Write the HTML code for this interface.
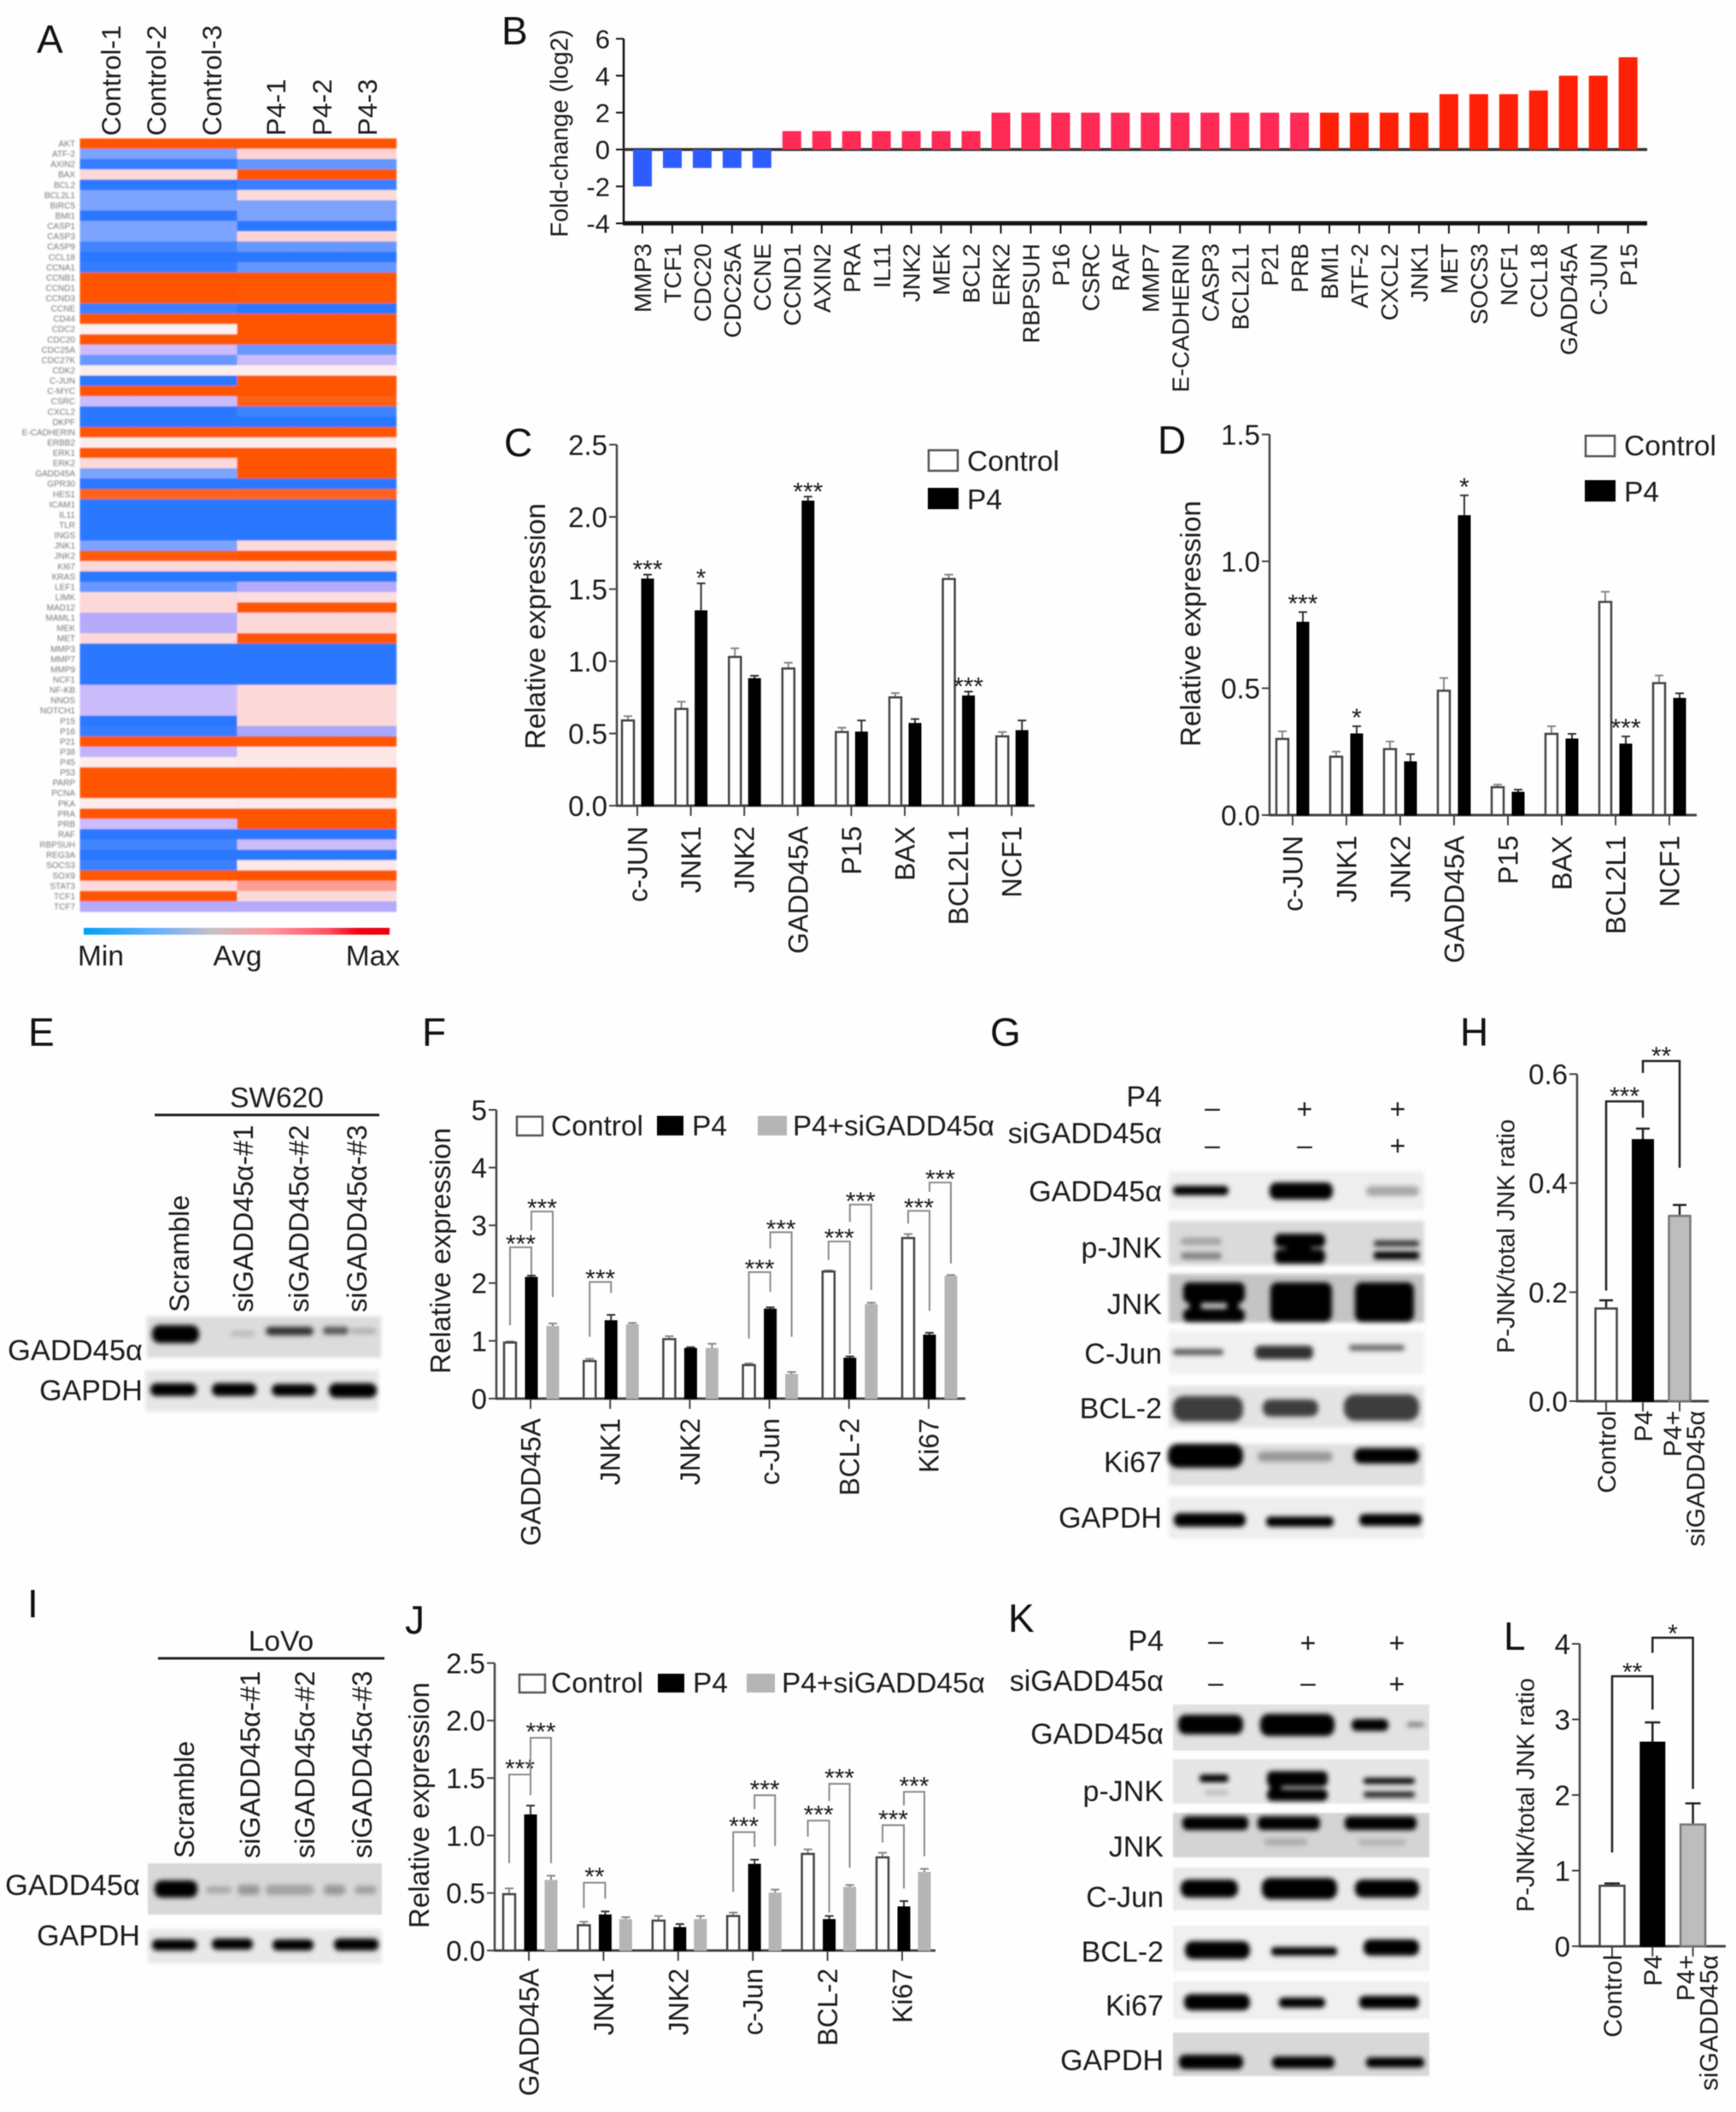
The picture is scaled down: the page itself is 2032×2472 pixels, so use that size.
<!DOCTYPE html>
<html lang="en">
<head>
<meta charset="utf-8">
<title>Multi-panel expression figure</title>
<style>
html,body{margin:0;padding:0;background:#fefefe;}
svg{display:block;filter:blur(0.6px);}
text{font-family:"Liberation Sans",sans-serif;fill:#1c1c1c;}
.lbl{font-size:33.5px;}
.end{text-anchor:end;}
.mid{text-anchor:middle;}
.letter{font-size:46px;fill:#111;}
</style>
</head>
<body>
<svg id="figure" xmlns="http://www.w3.org/2000/svg" width="2032" height="2472" viewBox="0 0 2032 2472">
<defs>
<filter id="b0" x="-20%" y="-60%" width="140%" height="220%"><feGaussianBlur stdDeviation="0.9"/></filter>
<filter id="b1" x="-10%" y="-30%" width="120%" height="160%"><feGaussianBlur stdDeviation="0.7"/></filter>
<filter id="b2" x="-10%" y="-30%" width="120%" height="160%"><feGaussianBlur stdDeviation="2"/></filter>
<filter id="b3" x="-10%" y="-60%" width="120%" height="220%"><feGaussianBlur stdDeviation="3"/></filter>
<linearGradient id="cbar" x1="0" x2="1" y1="0" y2="0">
<stop offset="0" stop-color="#00a0f0"/><stop offset="0.22" stop-color="#60b0ff"/><stop offset="0.42" stop-color="#c8c0c8"/><stop offset="0.6" stop-color="#ff9aa0"/><stop offset="0.8" stop-color="#ff5060"/><stop offset="0.9" stop-color="#f00010"/><stop offset="1" stop-color="#e80010"/>
</linearGradient>
</defs>

<!-- Panel letters -->
<text class="letter" x="43" y="62">A</text>
<text class="letter" x="587" y="52">B</text>
<text class="letter" x="590" y="534">C</text>
<text class="letter" x="1355" y="531">D</text>
<text class="letter" x="33" y="1224">E</text>
<text class="letter" x="494" y="1224">F</text>
<text class="letter" x="1159" y="1224">G</text>
<text class="letter" x="1709" y="1224">H</text>
<text class="letter" x="32" y="1893">I</text>
<text class="letter" x="474" y="1912">J</text>
<text class="letter" x="1180" y="1910">K</text>
<text class="letter" x="1760" y="1931">L</text>

<!-- Panel A static parts -->
<g font-size="31.5">
<text transform="translate(141 159) rotate(-90)">Control-1</text>
<text transform="translate(194 159) rotate(-90)">Control-2</text>
<text transform="translate(259 159) rotate(-90)">Control-3</text>
<text transform="translate(334 159) rotate(-90)">P4-1</text>
<text transform="translate(388 159) rotate(-90)">P4-2</text>
<text transform="translate(441 159) rotate(-90)">P4-3</text>
</g>
<rect x="98" y="1086" width="358" height="8" fill="url(#cbar)"/>
<text class="lbl" x="91" y="1130">Min</text>
<text class="lbl mid" x="278" y="1130">Avg</text>
<text class="lbl end" x="468" y="1130">Max</text>

<!-- Panel C / D legends -->
<g>
<rect x="1087" y="527" width="34" height="24" fill="#fff" stroke="#555" stroke-width="2.5"/>
<text class="lbl" x="1132" y="551">Control</text>
<rect x="1086" y="571" width="36" height="25" fill="#000"/>
<text class="lbl" x="1132" y="596">P4</text>
</g>
<g>
<rect x="1856" y="510" width="34" height="24" fill="#fff" stroke="#555" stroke-width="2.5"/>
<text class="lbl" x="1901" y="533">Control</text>
<rect x="1855" y="562" width="36" height="25" fill="#000"/>
<text class="lbl" x="1901" y="587">P4</text>
</g>

<!-- Panel E -->
<g>
<text class="lbl mid" x="324" y="1296">SW620</text>
<line x1="181" x2="444" y1="1305" y2="1305" stroke="#222" stroke-width="3"/>
<g font-size="32.5">
<text transform="translate(221 1536) rotate(-90)">Scramble</text>
<text transform="translate(296 1536) rotate(-90)">siGADD45α-#1</text>
<text transform="translate(361 1536) rotate(-90)">siGADD45α-#2</text>
<text transform="translate(429 1536) rotate(-90)">siGADD45α-#3</text>
</g>
<rect x="172" y="1541" width="274" height="48" fill="#dcdcdc" filter="url(#b2)"/>
<rect x="170" y="1604" width="273" height="48" fill="#e6e6e6" filter="url(#b2)"/>
<g filter="url(#b3)">
<rect x="178" y="1551" width="55" height="21" rx="9" fill="#000"/>
<rect x="270" y="1558" width="28" height="6" rx="3" fill="#b5b5b5"/>
<rect x="311" y="1553" width="56" height="10" rx="5" fill="#333"/>
<rect x="378" y="1553" width="30" height="9" rx="4" fill="#555"/>
<rect x="410" y="1555" width="30" height="6" rx="3" fill="#aaa"/>
<rect x="176" y="1619" width="54" height="15" rx="7" fill="#000"/>
<rect x="248" y="1619" width="52" height="15" rx="7" fill="#000"/>
<rect x="318" y="1620" width="52" height="14" rx="7" fill="#000"/>
<rect x="385" y="1619" width="56" height="17" rx="8" fill="#000"/>
</g>
<text class="lbl end" style="font-size:34.5px" x="167" y="1592">GADD45α</text>
<text class="lbl end" style="font-size:34px" x="167" y="1639">GAPDH</text>
</g>

<!-- Panel F legend -->
<g>
<rect x="605" y="1307" width="30" height="22" fill="#fff" stroke="#555" stroke-width="2.5"/>
<text class="lbl" x="645" y="1329">Control</text>
<rect x="769" y="1306" width="31" height="23" fill="#000"/>
<text class="lbl" x="810" y="1329">P4</text>
<rect x="887" y="1306" width="34" height="23" fill="#b5b5b5"/>
<text class="lbl" x="928" y="1329" textLength="236" lengthAdjust="spacingAndGlyphs">P4+siGADD45α</text>
</g>

<!-- Panel G -->
<g>
<g font-size="34">
<text class="end" x="1360" y="1295">P4</text>
<text class="end" x="1360" y="1338">siGADD45α</text>
<text class="end" x="1360" y="1406">GADD45α</text>
<text class="end" x="1360" y="1472">p-JNK</text>
<text class="end" x="1360" y="1538">JNK</text>
<text class="end" x="1360" y="1596">C-Jun</text>
<text class="end" x="1360" y="1660">BCL-2</text>
<text class="end" x="1360" y="1723">Ki67</text>
<text class="end" x="1360" y="1788">GAPDH</text>
</g>
<g font-size="32" text-anchor="middle">
<text x="1419" y="1307">–</text>
<text x="1527" y="1309">+</text>
<text x="1636" y="1309">+</text>
<text x="1419" y="1351">–</text>
<text x="1527" y="1351">–</text>
<text x="1636" y="1352">+</text>
</g>
<g filter="url(#b2)">
<rect x="1368" y="1371" width="299" height="45" fill="#eeeeee"/>
<rect x="1368" y="1429" width="299" height="52" fill="#dadada"/>
<rect x="1368" y="1491" width="299" height="57" fill="#c4c4c4"/>
<rect x="1368" y="1558" width="299" height="50" fill="#f1f1f1"/>
<rect x="1368" y="1622" width="299" height="49" fill="#e4e4e4"/>
<rect x="1368" y="1690" width="299" height="49" fill="#e0e0e0"/>
<rect x="1368" y="1752" width="299" height="49" fill="#eeeeee"/>
</g>
<g filter="url(#b3)">
<rect x="1373" y="1388" width="65" height="11" rx="5" fill="#000"/>
<rect x="1486" y="1384" width="74" height="20" rx="8" fill="#000"/>
<rect x="1599" y="1388" width="62" height="12" rx="6" fill="#a8a8a8"/>
<rect x="1382" y="1449" width="48" height="8" rx="4" fill="#a0a0a0"/>
<rect x="1382" y="1466" width="48" height="8" rx="4" fill="#7f7f7f"/>
<rect x="1492" y="1444" width="59" height="16" rx="6" fill="#000"/>
<rect x="1492" y="1462" width="59" height="17" rx="6" fill="#000"/>
<rect x="1505" y="1452" width="30" height="16" fill="#000"/>
<rect x="1608" y="1452" width="53" height="7" rx="3" fill="#333"/>
<rect x="1608" y="1465" width="53" height="9" rx="3" fill="#000"/>
<rect x="1385" y="1501" width="72" height="24" rx="7" fill="#000"/>
<rect x="1385" y="1532" width="72" height="15" rx="6" fill="#000"/>
<rect x="1392" y="1520" width="14" height="16" fill="#000"/>
<rect x="1436" y="1520" width="14" height="16" fill="#000"/>
<rect x="1487" y="1501" width="72" height="46" rx="8" fill="#000"/>
<rect x="1586" y="1501" width="69" height="46" rx="8" fill="#000"/>
<rect x="1373" y="1579" width="59" height="7" rx="3" fill="#555"/>
<rect x="1469" y="1575" width="68" height="16" rx="6" fill="#333"/>
<rect x="1579" y="1574" width="65" height="7" rx="3" fill="#666"/>
<rect x="1373" y="1634" width="82" height="30" rx="12" fill="#3c3c3c"/>
<rect x="1478" y="1638" width="65" height="20" rx="9" fill="#3c3c3c"/>
<rect x="1573" y="1632" width="88" height="31" rx="13" fill="#3c3c3c"/>
<rect x="1367" y="1690" width="88" height="28" rx="12" fill="#000"/>
<rect x="1472" y="1699" width="88" height="12" rx="6" fill="#999"/>
<rect x="1585" y="1695" width="76" height="18" rx="8" fill="#000"/>
<rect x="1374" y="1771" width="84" height="16" rx="7" fill="#000"/>
<rect x="1482" y="1775" width="79" height="12" rx="5" fill="#000"/>
<rect x="1591" y="1772" width="73" height="14" rx="6" fill="#000"/>
</g>
</g>

<!-- Panel I -->
<g>
<text class="lbl mid" x="329" y="1932">LoVo</text>
<line x1="185" x2="450" y1="1941" y2="1941" stroke="#222" stroke-width="3"/>
<g font-size="32.5">
<text transform="translate(227 2175) rotate(-90)">Scramble</text>
<text transform="translate(304 2175) rotate(-90)">siGADD45α-#1</text>
<text transform="translate(368 2175) rotate(-90)">siGADD45α-#2</text>
<text transform="translate(435 2175) rotate(-90)">siGADD45α-#3</text>
</g>
<rect x="173" y="2181" width="274" height="60" fill="#d8d8d8" filter="url(#b1)"/>
<rect x="173" y="2258" width="274" height="40" fill="#e8e8e8" filter="url(#b2)"/>
<g filter="url(#b3)">
<rect x="181" y="2201" width="50" height="20" rx="8" fill="#000"/>
<rect x="241" y="2208" width="30" height="8" rx="4" fill="#a8a8a8"/>
<rect x="278" y="2206" width="26" height="12" rx="5" fill="#999"/>
<rect x="311" y="2206" width="56" height="12" rx="5" fill="#a2a2a2"/>
<rect x="379" y="2206" width="25" height="12" rx="5" fill="#999"/>
<rect x="415" y="2207" width="26" height="10" rx="5" fill="#a2a2a2"/>
<rect x="178" y="2270" width="52" height="13" rx="6" fill="#000"/>
<rect x="248" y="2269" width="48" height="13" rx="6" fill="#000"/>
<rect x="319" y="2270" width="48" height="13" rx="6" fill="#000"/>
<rect x="391" y="2269" width="52" height="14" rx="6" fill="#000"/>
</g>
<text class="lbl end" style="font-size:34.5px" x="164" y="2218">GADD45α</text>
<text class="lbl end" style="font-size:34px" x="164" y="2277">GAPDH</text>
</g>

<!-- Panel J legend -->
<g>
<rect x="608" y="1960" width="30" height="21" fill="#fff" stroke="#555" stroke-width="2.5"/>
<text class="lbl" x="645" y="1981">Control</text>
<rect x="770" y="1959" width="31" height="22" fill="#000"/>
<text class="lbl" x="811" y="1981">P4</text>
<rect x="874" y="1959" width="33" height="22" fill="#b5b5b5"/>
<text class="lbl" x="915" y="1981" textLength="238" lengthAdjust="spacingAndGlyphs">P4+siGADD45α</text>
</g>

<!-- Panel K -->
<g>
<g font-size="34">
<text class="end" x="1362" y="1932">P4</text>
<text class="end" x="1362" y="1979">siGADD45α</text>
<text class="end" x="1362" y="2041">GADD45α</text>
<text class="end" x="1362" y="2108">p-JNK</text>
<text class="end" x="1362" y="2173">JNK</text>
<text class="end" x="1362" y="2232">C-Jun</text>
<text class="end" x="1362" y="2296">BCL-2</text>
<text class="end" x="1362" y="2359">Ki67</text>
<text class="end" x="1362" y="2423">GAPDH</text>
</g>
<g font-size="32" text-anchor="middle">
<text x="1423" y="1931">–</text>
<text x="1531" y="1934">+</text>
<text x="1635" y="1934">+</text>
<text x="1423" y="1980">–</text>
<text x="1531" y="1980">–</text>
<text x="1635" y="1982">+</text>
</g>
<g filter="url(#b1)">
<rect x="1373" y="1995" width="300" height="54" fill="#e2e2e2"/>
<rect x="1373" y="2059" width="300" height="52" fill="#e6e6e6"/>
<rect x="1373" y="2122" width="300" height="52" fill="#d4d4d4"/>
<rect x="1373" y="2186" width="300" height="50" fill="#eaeaea"/>
<rect x="1373" y="2254" width="300" height="53" fill="#f0f0f0"/>
<rect x="1373" y="2319" width="300" height="44" fill="#f0f0f0"/>
<rect x="1373" y="2379" width="300" height="51" fill="#d8d8d8"/>
</g>
<g filter="url(#b3)">
<rect x="1379" y="2007" width="76" height="23" rx="9" fill="#000"/>
<rect x="1475" y="2006" width="87" height="26" rx="10" fill="#000"/>
<rect x="1582" y="2012" width="43" height="14" rx="6" fill="#000"/>
<rect x="1647" y="2016" width="20" height="5" rx="2" fill="#777"/>
<rect x="1404" y="2077" width="34" height="9" rx="4" fill="#000"/>
<rect x="1410" y="2095" width="28" height="6" rx="3" fill="#bbb"/>
<rect x="1483" y="2073" width="71" height="18" rx="6" fill="#000"/>
<rect x="1483" y="2094" width="71" height="14" rx="6" fill="#000"/>
<rect x="1486" y="2085" width="14" height="12" fill="#000"/>
<rect x="1596" y="2081" width="60" height="7" rx="3" fill="#000"/>
<rect x="1596" y="2097" width="60" height="7" rx="3" fill="#222"/>
<rect x="1384" y="2126" width="77" height="16" rx="6" fill="#000"/>
<rect x="1472" y="2126" width="73" height="16" rx="6" fill="#000"/>
<rect x="1574" y="2126" width="84" height="16" rx="6" fill="#000"/>
<rect x="1480" y="2152" width="50" height="8" rx="4" fill="#aaa"/>
<rect x="1590" y="2153" width="55" height="7" rx="3" fill="#b0b0b0"/>
<rect x="1382" y="2200" width="67" height="21" rx="9" fill="#000"/>
<rect x="1477" y="2198" width="88" height="25" rx="10" fill="#000"/>
<rect x="1586" y="2200" width="75" height="21" rx="9" fill="#000"/>
<rect x="1387" y="2272" width="76" height="21" rx="9" fill="#000"/>
<rect x="1488" y="2279" width="77" height="10" rx="4" fill="#000"/>
<rect x="1596" y="2270" width="65" height="19" rx="8" fill="#000"/>
<rect x="1386" y="2334" width="77" height="19" rx="8" fill="#000"/>
<rect x="1497" y="2338" width="54" height="12" rx="5" fill="#000"/>
<rect x="1591" y="2336" width="70" height="15" rx="6" fill="#000"/>
<rect x="1380" y="2405" width="75" height="17" rx="7" fill="#000"/>
<rect x="1489" y="2407" width="73" height="14" rx="6" fill="#000"/>
<rect x="1599" y="2408" width="68" height="12" rx="5" fill="#000"/>
</g>
</g>
</svg>

<script>
/* ---------- Panel A: heatmap data ---------- */
const heatGenes = ['AKT','ATF-2','AXIN2','BAX','BCL2','BCL2L1','BIRC5','BMI1','CASP1','CASP3','CASP9','CCL18','CCNA1','CCNB1','CCND1','CCND3','CCNE','CD44','CDC2','CDC20','CDC25A','CDC27K','CDK2','C-JUN','C-MYC','CSRC','CXCL2','DKPF','E-CADHERIN','ERBB2','ERK1','ERK2','GADD45A','GPR30','HES1','ICAM1','IL11','TLR','INGS','JNK1','JNK2','KI67','KRAS','LEF1','LIMK','MAD12','MAML1','MEK','MET','MMP3','MMP7','MMP9','NCF1','NF-KB','NNOS','NOTCH1','P15','P16','P21','P38','P45','P53','PARP','PCNA','PKA','PRA','PRB','RAF','RBPSUH','REG3A','SOCS3','SOX9','STAT3','TCF1','TCF7'];
const heatControl = [1,-0.6,-0.95,0.2,-1,-0.6,-0.6,-1,-0.6,-0.6,-0.88,-1,-0.95,1,1,1,-0.92,1,0,1,-0.3,-0.7,0.02,-1,1,-0.3,-1,-1,1,0.03,1,0.2,-0.6,-1,0.9,-1,-1,-1,-1,-0.6,0.97,0.2,-1,-0.7,0.2,0.2,-0.4,-0.4,0.2,-1,-1,-1,-1,-0.3,-0.3,-0.3,-1,-0.95,1,-0.35,0.03,1,1,1,0.03,1,-0.3,-1,-0.88,-1,-0.92,0.98,0.18,1,-0.4];
const heatP4 = [1,0.22,-0.72,1,-0.93,0.18,-0.6,-0.6,-1,0.22,-0.7,-1,-0.72,1,0.98,0.98,-1,1,1,1,-0.7,-0.3,0.02,1,1,0.92,-0.9,-1,1,0.03,1,1,1,-1,0.9,-1,-1,-1,-1,0.18,1,0.18,-1,-0.4,0.16,1,0.2,0.2,1,-1,-1,-1,-1,0.2,0.2,0.2,0.2,-0.45,1,0.08,0.08,1,1,1,0.06,1,1,-1,-0.3,-1,0.06,1,0.5,0.18,-0.4];

/* ---------- Panel B ---------- */
const bCategories = ['MMP3','TCF1','CDC20','CDC25A','CCNE','CCND1','AXIN2','PRA','IL11','JNK2','MEK','BCL2','ERK2','RBPSUH','P16','CSRC','RAF','MMP7','E-CADHERIN','CASP3','BCL2L1','P21','PRB','BMI1','ATF-2','CXCL2','JNK1','MET','SOCS3','NCF1','CCL18','GADD45A','C-JUN','P15'];
const bValues = [-2,-1,-1,-1,-1,1,1,1,1,1,1,1,2,2,2,2,2,2,2,2,2,2,2,2,2,2,2,3,3,3,3.2,4,4,5];
const bTicks = ['6','4','2','0','-2','-4'];

/* ---------- Panel C ---------- */
const cCategories = ['c-JUN','JNK1','JNK2','GADD45A','P15','BAX','BCL2L1','NCF1'];
const cControl = [0.59,0.67,1.03,0.95,0.51,0.75,1.57,0.48];
const cControlErr = [0.03,0.05,0.06,0.04,0.03,0.03,0.03,0.03];
const cP4 = [1.57,1.35,0.88,2.11,0.51,0.57,0.76,0.52];
const cP4Err = [0.03,0.19,0.02,0.03,0.08,0.03,0.03,0.07];
const cStars = ['***','*','','***','','','***',''];
const cTicks = ['0.0','0.5','1.0','1.5','2.0','2.5'];

/* ---------- Panel D ---------- */
const dCategories = ['c-JUN','JNK1','JNK2','GADD45A','P15','BAX','BCL2L1','NCF1'];
const dControl = [0.30,0.23,0.26,0.49,0.11,0.32,0.84,0.52];
const dControlErr = [0.03,0.02,0.03,0.05,0.01,0.03,0.04,0.03];
const dP4 = [0.76,0.32,0.21,1.18,0.09,0.30,0.28,0.46];
const dP4Err = [0.04,0.03,0.03,0.08,0.01,0.02,0.03,0.02];
const dStars = ['***','*','','*','','','***',''];
const dTicks = ['0.0','0.5','1.0','1.5'];

/* ---------- Panel F ---------- */
const fCategories = ['GADD45A','JNK1','JNK2','c-Jun','BCL-2','Ki67'];
const fControl = [0.97,0.65,1.03,0.58,2.2,2.78];
const fControlErr = [0.02,0.04,0.05,0.03,0.02,0.07];
const fP4 = [2.1,1.35,0.87,1.55,0.7,1.1];
const fP4Err = [0.03,0.1,0.02,0.03,0.03,0.04];
const fSi = [1.25,1.28,0.87,0.42,1.63,2.12];
const fSiErr = [0.05,0.03,0.08,0.04,0.03,0.02];
const fTicks = ['0','1','2','3','4','5'];
const fBrackets = [
  {group:0,from:0,to:1,top:2.62,footFrom:1.27,footTo:2.14,label:'***'},
  {group:0,from:1,to:2,top:3.24,footFrom:2.91,footTo:1.76,label:'***'},
  {group:1,from:0,to:1,top:2.02,footFrom:1.07,footTo:1.83,label:'***'},
  {group:3,from:0,to:1,top:2.19,footFrom:1.04,footTo:1.85,label:'***'},
  {group:3,from:1,to:2,top:2.88,footFrom:2.6,footTo:1.07,label:'***'},
  {group:4,from:0,to:1,top:2.72,footFrom:2.4,footTo:0.77,label:'***'},
  {group:4,from:1,to:2,top:3.36,footFrom:3.06,footTo:1.88,label:'***'},
  {group:5,from:0,to:1,top:3.25,footFrom:3.03,footTo:1.52,label:'***'},
  {group:5,from:1,to:2,top:3.74,footFrom:3.58,footTo:2.34,label:'***'}
];

/* ---------- Panel H ---------- */
const hCategories = ['Control','P4','P4+|siGADD45α'];
const hValues = [0.17,0.48,0.34];
const hErrs = [0.015,0.02,0.02];
const hTicks = ['0.0','0.2','0.4','0.6'];
const hBrackets = [
  {from:0,to:1,top:0.55,footFrom:0.203,footTo:0.52,label:'***'},
  {from:1,to:2,top:0.624,footFrom:0.602,footTo:0.428,label:'**'}
];

/* ---------- Panel J ---------- */
const jCategories = ['GADD45A','JNK1','JNK2','c-Jun','BCL-2','Ki67'];
const jControl = [0.49,0.22,0.26,0.30,0.84,0.81];
const jControlErr = [0.05,0.03,0.04,0.03,0.04,0.04];
const jP4 = [1.18,0.31,0.20,0.75,0.27,0.38];
const jP4Err = [0.08,0.03,0.03,0.04,0.03,0.05];
const jSi = [0.61,0.27,0.27,0.50,0.55,0.68];
const jSiErr = [0.04,0.02,0.03,0.03,0.02,0.03];
const jTicks = ['0.0','0.5','1.0','1.5','2.0','2.5'];
const jBrackets = [
  {group:0,from:0,to:1,top:1.53,footFrom:0.76,footTo:1.38,label:'***'},
  {group:0,from:1,to:2,top:1.85,footFrom:1.35,footTo:0.76,label:'***'},
  {group:1,from:0,to:1,top:0.59,footFrom:0.37,footTo:0.45,label:'**'},
  {group:3,from:0,to:1,top:1.03,footFrom:0.51,footTo:0.90,label:'***'},
  {group:3,from:1,to:2,top:1.35,footFrom:1.23,footTo:0.91,label:'***'},
  {group:4,from:0,to:1,top:1.13,footFrom:0.99,footTo:0.33,label:'***'},
  {group:4,from:1,to:2,top:1.45,footFrom:1.30,footTo:0.72,label:'***'},
  {group:5,from:0,to:1,top:1.09,footFrom:0.94,footTo:0.54,label:'***'},
  {group:5,from:1,to:2,top:1.38,footFrom:1.26,footTo:0.82,label:'***'}
];

/* ---------- Panel L ---------- */
const lCategories = ['Control','P4','P4+|siGADD45α'];
const lValues = [0.8,2.7,1.61];
const lErrs = [0.03,0.26,0.28];
const lTicks = ['0','1','2','3','4'];
const lBrackets = [
  {from:0,to:1,top:3.57,footFrom:1.24,footTo:3.13,label:'**'},
  {from:1,to:2,top:4.08,footFrom:3.88,footTo:2.08,label:'*'}
];

/* ---------- Drawing helpers ---------- */
const NS = 'http://www.w3.org/2000/svg';
const svg = document.getElementById('figure');

function add(parent, tag, attrs, name, text) {
  const el = document.createElementNS(NS, tag);
  for (const k in attrs) el.setAttribute(k, attrs[k]);
  
  
  if (text !== undefined) el.textContent = text;
  parent.appendChild(el);
  return el;
}
function slug(s) { return String(s).toLowerCase().replace(/[^a-z0-9]+/g, '-'); }

function rotatedLabel(g, text, x, y, size, name, anchor) {
  return add(g, 'text', {transform: 'translate(' + x + ' ' + y + ') rotate(-90)', 'font-size': size, 'text-anchor': anchor || 'end'}, name, text);
}

const WHITE = {fill: '#fff', stroke: '#444', sw: 2.5};
const BLACK = {fill: '#000', stroke: '#000', sw: 1};
const GREY = {fill: '#b5b5b5', stroke: '#b5b5b5', sw: 1};
const GREY_OUTLINE = {fill: '#bdbdbd', stroke: '#777', sw: 2.5};

function drawChart(c) {
  const g = add(svg, 'g', {}, c.name);
  const y = v => c.y0 - v * c.unit;
  const tickX = i => c.first + i * c.step;
  const tickVals = c.ticks.map(Number);
  const vMax = Math.max.apply(null, tickVals), vMin = Math.min.apply(null, tickVals);
  const ink = c.axisColor || '#444';

  /* axes */
  add(g, 'line', {x1: c.x0, x2: c.x0, y1: y(vMax), y2: y(vMin), stroke: ink, 'stroke-width': c.axisW || 2.5}, c.name + '-y-axis');
  add(g, 'line', {x1: c.x0 - 1, x2: c.xEnd, y1: y(vMin), y2: y(vMin), stroke: ink, 'stroke-width': c.baseW || 3}, c.name + '-x-axis');
  if (vMin < 0) add(g, 'line', {x1: c.x0 - 1, x2: c.xEnd, y1: y(0), y2: y(0), stroke: '#333', 'stroke-width': 3.5}, c.name + '-zero-line');

  c.ticks.forEach(function (label) {
    const v = Number(label);
    add(g, 'line', {x1: c.x0 - 9, x2: c.x0, y1: y(v), y2: y(v), stroke: ink, 'stroke-width': 2}, c.name + '-y-tick');
    add(g, 'text', {x: c.x0 - (c.tickGap || 11), y: y(v) + (c.tickSize || 33) * 0.36, 'font-size': c.tickSize || 33, 'text-anchor': 'end'}, c.name + '-y-tick-label', label);
  });

  /* y title */
  const ts = c.titleSize || 33;
  rotatedLabel(g, c.title, c.titleX + ts * 0.36, c.titleY, ts, c.name + '-y-axis-title', 'middle');

  /* category labels */
  const ls = c.labelSize || 32;
  c.categories.forEach(function (cat, i) {
    const x = tickX(i);
    add(g, 'line', {x1: x, x2: x, y1: y(vMin), y2: y(vMin) + 12, stroke: ink, 'stroke-width': 2}, c.name + '-x-tick');
    const parts = cat.split('|');
    if (parts.length === 1) {
      rotatedLabel(g, cat, x + ls * 0.36, c.labelTop, ls, c.name + '-x-label-' + slug(cat));
    } else {
      rotatedLabel(g, parts[0], x - 9 + ls * 0.36, c.labelTop, ls, c.name + '-x-label-' + slug(parts[0]));
      rotatedLabel(g, parts[1], x + 18 + ls * 0.36, c.labelTop, ls, c.name + '-x-label-' + slug(parts[1]));
    }
  });

  /* bars */
  c.series.forEach(function (s) {
    s.values.forEach(function (v, i) {
      const st = s.styles ? s.styles[i] : s.style;
      const x = tickX(i) + s.offset;
      const top = Math.min(y(0), y(v));
      const h = Math.abs(y(v) - y(0));
      if (s.errs) {
        const ey = y(v + s.errs[i]);
        const ec = c.errColor || (st === BLACK ? '#333' : '#888');
        add(g, 'line', {x1: x, x2: x, y1: y(v), y2: ey, stroke: ec, 'stroke-width': c.errW || 2}, c.name + '-error-bar');
        add(g, 'line', {x1: x - c.capW, x2: x + c.capW, y1: ey, y2: ey, stroke: ec, 'stroke-width': c.errW || 2}, c.name + '-error-cap');
      }
      const fill = c.colorFor ? c.colorFor(i, v) : st.fill;
      const stroke = c.colorFor ? fill : st.stroke;
      const sw = c.colorFor ? 0 : st.sw;
      add(g, 'rect', {x: x - c.barW / 2, y: top, width: c.barW, height: h, fill: fill, stroke: stroke, 'stroke-width': sw}, c.name + '-bar-' + s.key + '-' + slug(c.categories[i]));
    });
  });

  /* significance stars above the P4 bar */
  if (c.stars) {
    const s = c.series[c.starSeries];
    c.stars.forEach(function (label, i) {
      if (!label) return;
      add(g, 'text', {x: tickX(i) + s.offset, y: y(s.values[i] + s.errs[i]) + c.starDy, 'font-size': 30, 'text-anchor': 'middle'}, c.name + '-significance', label);
    });
  }

  /* brackets */
  if (c.brackets) {
    const bx = (b, idx) => b.group === undefined ? tickX(idx) : tickX(b.group) + c.series[idx].offset;
    c.brackets.forEach(function (b) {
      const x1 = bx(b, b.from), x2 = bx(b, b.to);
      const d = 'M' + x1 + ' ' + y(b.footFrom) + 'V' + y(b.top) + 'H' + x2 + 'V' + y(b.footTo);
      add(g, 'path', {d: d, fill: 'none', stroke: c.bracketColor || '#8a8a8a', 'stroke-width': c.bracketW || 2}, c.name + '-bracket');
      add(g, 'text', {x: (x1 + x2) / 2, y: y(b.top) + c.bracketDy, 'font-size': 30, 'text-anchor': 'middle'}, c.name + '-bracket-significance', b.label);
    });
  }
}

/* ---------- Heatmap ---------- */
const heatScale = [[-1,[42,120,255]],[-0.6,[123,163,253]],[-0.4,[182,170,251]],[-0.3,[203,188,251]],[0,[253,240,240]],[0.2,[253,216,216]],[0.5,[251,160,144]],[1,[255,85,0]]];
function heatColor(v) {
  for (let i = 1; i < heatScale.length; i++) {
    if (v <= heatScale[i][0]) {
      const a = heatScale[i - 1], b = heatScale[i], t = (v - a[0]) / (b[0] - a[0]);
      const m = a[1].map((u, k) => Math.round(u + (b[1][k] - u) * t));
      return 'rgb(' + m.join(',') + ')';
    }
  }
  return 'rgb(255,85,0)';
}
(function drawHeatmap() {
  const g = add(svg, 'g', {}, 'heatmap');
  const cells = add(g, 'g', {filter: 'url(#b1)'}, 'heatmap-cells');
  const top = 162, rowH = 905 / heatGenes.length, left = 93.5, split = 277.5, right = 463.6;
  const colW = (split - left) / 3, colW2 = (right - split) / 3;
  heatGenes.forEach(function (gene, r) {
    const ry = top + r * rowH;
    for (let c = 0; c < 3; c++) {
      add(cells, 'rect', {x: left + c * colW, y: ry, width: colW + 0.6, height: rowH + 0.4, fill: heatColor(heatControl[r])}, 'heat-cell-' + slug(gene) + '-control-' + (c + 1));
    }
    for (let c = 0; c < 3; c++) {
      add(cells, 'rect', {x: split + c * colW2, y: ry, width: colW2 + 0.6, height: rowH + 0.4, fill: heatColor(heatP4[r])}, 'heat-cell-' + slug(gene) + '-p4-' + (c + 1));
    }
    const t = add(g, 'text', {x: 88, y: ry + rowH / 2 + 3.5, 'font-size': 10, 'text-anchor': 'end', filter: 'url(#b0)'}, 'gene-label-' + slug(gene), gene);
    t.style.fill = '#777';
  });
})();

/* ---------- Charts ---------- */
const BLUE = '#2e5cff', PINK = '#ff2a55', RED = '#ff2008', RED_FROM = 'BMI1';
drawChart({
  name: 'panel-b', x0: 730, y0: 175, unit: 21.6, xEnd: 1928, first: 752, step: 34.96, barW: 22, capW: 0,
  categories: bCategories, ticks: bTicks, title: 'Fold-change (log2)', titleX: 654, titleY: 156, titleSize: 29,
  labelTop: 285, labelSize: 28, tickSize: 31, tickGap: 16, axisColor: '#111', baseW: 5,
  series: [{key: 'fold-change', values: bValues, offset: 0, style: BLACK}],
  colorFor: function (i, v) { return v < 0 ? BLUE : (i >= bCategories.indexOf(RED_FROM) ? RED : PINK); }
});
drawChart({
  name: 'panel-c', x0: 722, y0: 943, unit: 169, xEnd: 1211, first: 746, step: 62.6, barW: 14, capW: 5,
  categories: cCategories, ticks: cTicks, title: 'Relative expression', titleX: 626, titleY: 733,
  labelTop: 967,
  series: [
    {key: 'control', values: cControl, errs: cControlErr, offset: -11, style: WHITE},
    {key: 'p4', values: cP4, errs: cP4Err, offset: 12, style: BLACK}
  ],
  stars: cStars, starSeries: 1, starDy: 4
});
drawChart({
  name: 'panel-d', x0: 1486, y0: 954, unit: 297, xEnd: 1986, first: 1513, step: 63, barW: 14, capW: 5,
  categories: dCategories, ticks: dTicks, title: 'Relative expression', titleX: 1393, titleY: 730,
  labelTop: 978,
  series: [
    {key: 'control', values: dControl, errs: dControlErr, offset: -12, style: WHITE},
    {key: 'p4', values: dP4, errs: dP4Err, offset: 12, style: BLACK}
  ],
  stars: dStars, starSeries: 1, starDy: 0
});
drawChart({
  name: 'panel-f', x0: 581, y0: 1637, unit: 67.6, xEnd: 1130, first: 621, step: 93.2, barW: 14, capW: 5,
  categories: fCategories, ticks: fTicks, title: 'Relative expression', titleX: 515, titleY: 1464,
  labelTop: 1660,
  series: [
    {key: 'control', values: fControl, errs: fControlErr, offset: -24, style: WHITE},
    {key: 'p4', values: fP4, errs: fP4Err, offset: 1, style: BLACK},
    {key: 'p4-si', values: fSi, errs: fSiErr, offset: 26, style: GREY}
  ],
  brackets: fBrackets, bracketDy: 6
});
drawChart({
  name: 'panel-h', x0: 1846, y0: 1640, unit: 638, xEnd: 2000, first: 1880, step: 43, barW: 25, capW: 8,
  categories: hCategories, ticks: hTicks, title: 'P-JNK/total JNK ratio', titleX: 1762, titleY: 1447, titleSize: 29,
  labelTop: 1651, labelSize: 30, errColor: '#222', errW: 2.5,
  series: [{key: 'ratio', values: hValues, errs: hErrs, offset: 0, styles: [WHITE, BLACK, GREY_OUTLINE]}],
  brackets: hBrackets, bracketColor: '#222', bracketW: 2.5, bracketDy: 4
});
drawChart({
  name: 'panel-j', x0: 579, y0: 2283, unit: 134.6, xEnd: 1095, first: 619, step: 87.4, barW: 14, capW: 5,
  categories: jCategories, ticks: jTicks, title: 'Relative expression', titleX: 490, titleY: 2113,
  labelTop: 2304,
  series: [
    {key: 'control', values: jControl, errs: jControlErr, offset: -23, style: WHITE},
    {key: 'p4', values: jP4, errs: jP4Err, offset: 2, style: BLACK},
    {key: 'p4-si', values: jSi, errs: jSiErr, offset: 26, style: GREY}
  ],
  brackets: jBrackets, bracketDy: 3
});
drawChart({
  name: 'panel-l', x0: 1849, y0: 2278, unit: 88.5, xEnd: 2020, first: 1887, step: 47.3, barW: 29, capW: 9,
  categories: lCategories, ticks: lTicks, title: 'P-JNK/total JNK ratio', titleX: 1785, titleY: 2101, titleSize: 29,
  labelTop: 2288, labelSize: 30, errColor: '#222', errW: 2.5,
  series: [{key: 'ratio', values: lValues, errs: lErrs, offset: 0, styles: [WHITE, BLACK, GREY_OUTLINE]}],
  brackets: lBrackets, bracketColor: '#222', bracketW: 2.5, bracketDy: 5
});
</script>
</body>
</html>
